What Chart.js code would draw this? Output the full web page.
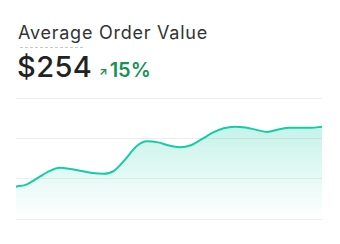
<!DOCTYPE html>
<html>
<head>
<meta charset="utf-8">
<script src="https://cdn.jsdelivr.net/npm/chart.js@4"></script>
<style>
  body { margin: 0; background: #fff; font-family: Inter, "Noto Sans", sans-serif; }
  .card { position: relative; width: 340px; height: 244px; }
  .title { position: absolute; left: 18px; top: 20px; font-size: 18px; letter-spacing: 0.75px; color: #333; line-height: 26px; }
  .title span { position: relative; }
  .title span::after { content: ''; position: absolute; left: 2px; width: 63px; top: 25px; border-top: 1px dashed #c8c8c8; }
  .value { position: absolute; left: 17px; top: 50px; font-size: 29px; letter-spacing: 0.4px; font-weight: 500; color: #222; line-height: 34px; }
  .change { position: absolute; left: 99px; top: 57px; font-size: 20px; font-weight: 600; color: #1a9256; line-height: 26px; }
  .change small { font-size: 11px; font-weight: 700; margin-right: 2px; position: relative; top: -2px; }
  .chart-box { position: absolute; left: 10px; top: 90px; width: 320px; height: 136px; }
</style>
</head>
<body>
<div class="card">
  <div class="title"><span>Average</span> Order Value</div>
  <div class="value">$254</div>
  <div class="change"><small>↗</small>15%</div>
  <div class="chart-box"><canvas id="aovChart"></canvas></div>
</div>
<script>
// Giá trị trung bình đơn hàng theo ngày
const days = Array.from({ length: 29 }, (_, i) => 'D' + (i + 1));
const orderValues = [190, 193, 201, 209, 213.5, 212, 209.5, 207, 206, 210, 224, 240, 246.5, 245, 241,
  239, 241.5, 249, 257, 262.5, 264.5, 263.5, 260.5, 258, 261, 263, 263, 263, 264.5];
const yTicks = [150, 200, 250, 300];

const lineColor = '#15cca6';

new Chart(document.getElementById('aovChart'), {
    type: 'line',
    data: {
        labels: days,
        datasets: [{
            data: orderValues,
            borderColor: lineColor,
            borderWidth: 2,
            pointRadius: 0,
            cubicInterpolationMode: 'monotone',
            fill: 'start',
            backgroundColor: ctx => {
                const area = ctx.chart.chartArea;
                if (!area) return 'rgba(21,204,166,0.15)';
                const g = ctx.chart.ctx.createLinearGradient(0, area.top, 0, area.bottom);
                g.addColorStop(0, 'rgba(21,204,166,0.32)');
                g.addColorStop(1, 'rgba(21,204,166,0.0)');
                return g;
            }
        }]
    },
    options: {
        responsive: true,
        maintainAspectRatio: false,
        animation: false,
        layout: { padding: { left: 6, right: 8, top: 8, bottom: 7 } },
        plugins: { legend: { display: false }, tooltip: { enabled: false } },
        scales: {
            x: { display: false },
            y: {
                min: yTicks[0],
                max: yTicks[yTicks.length - 1],
                afterBuildTicks: axis => { axis.ticks = yTicks.map(v => ({ value: v })); },
                ticks: { display: false },
                border: { display: false },
                grid: { color: '#ededed', drawTicks: false }
            }
        }
    }
});
</script>
</body>
</html>
